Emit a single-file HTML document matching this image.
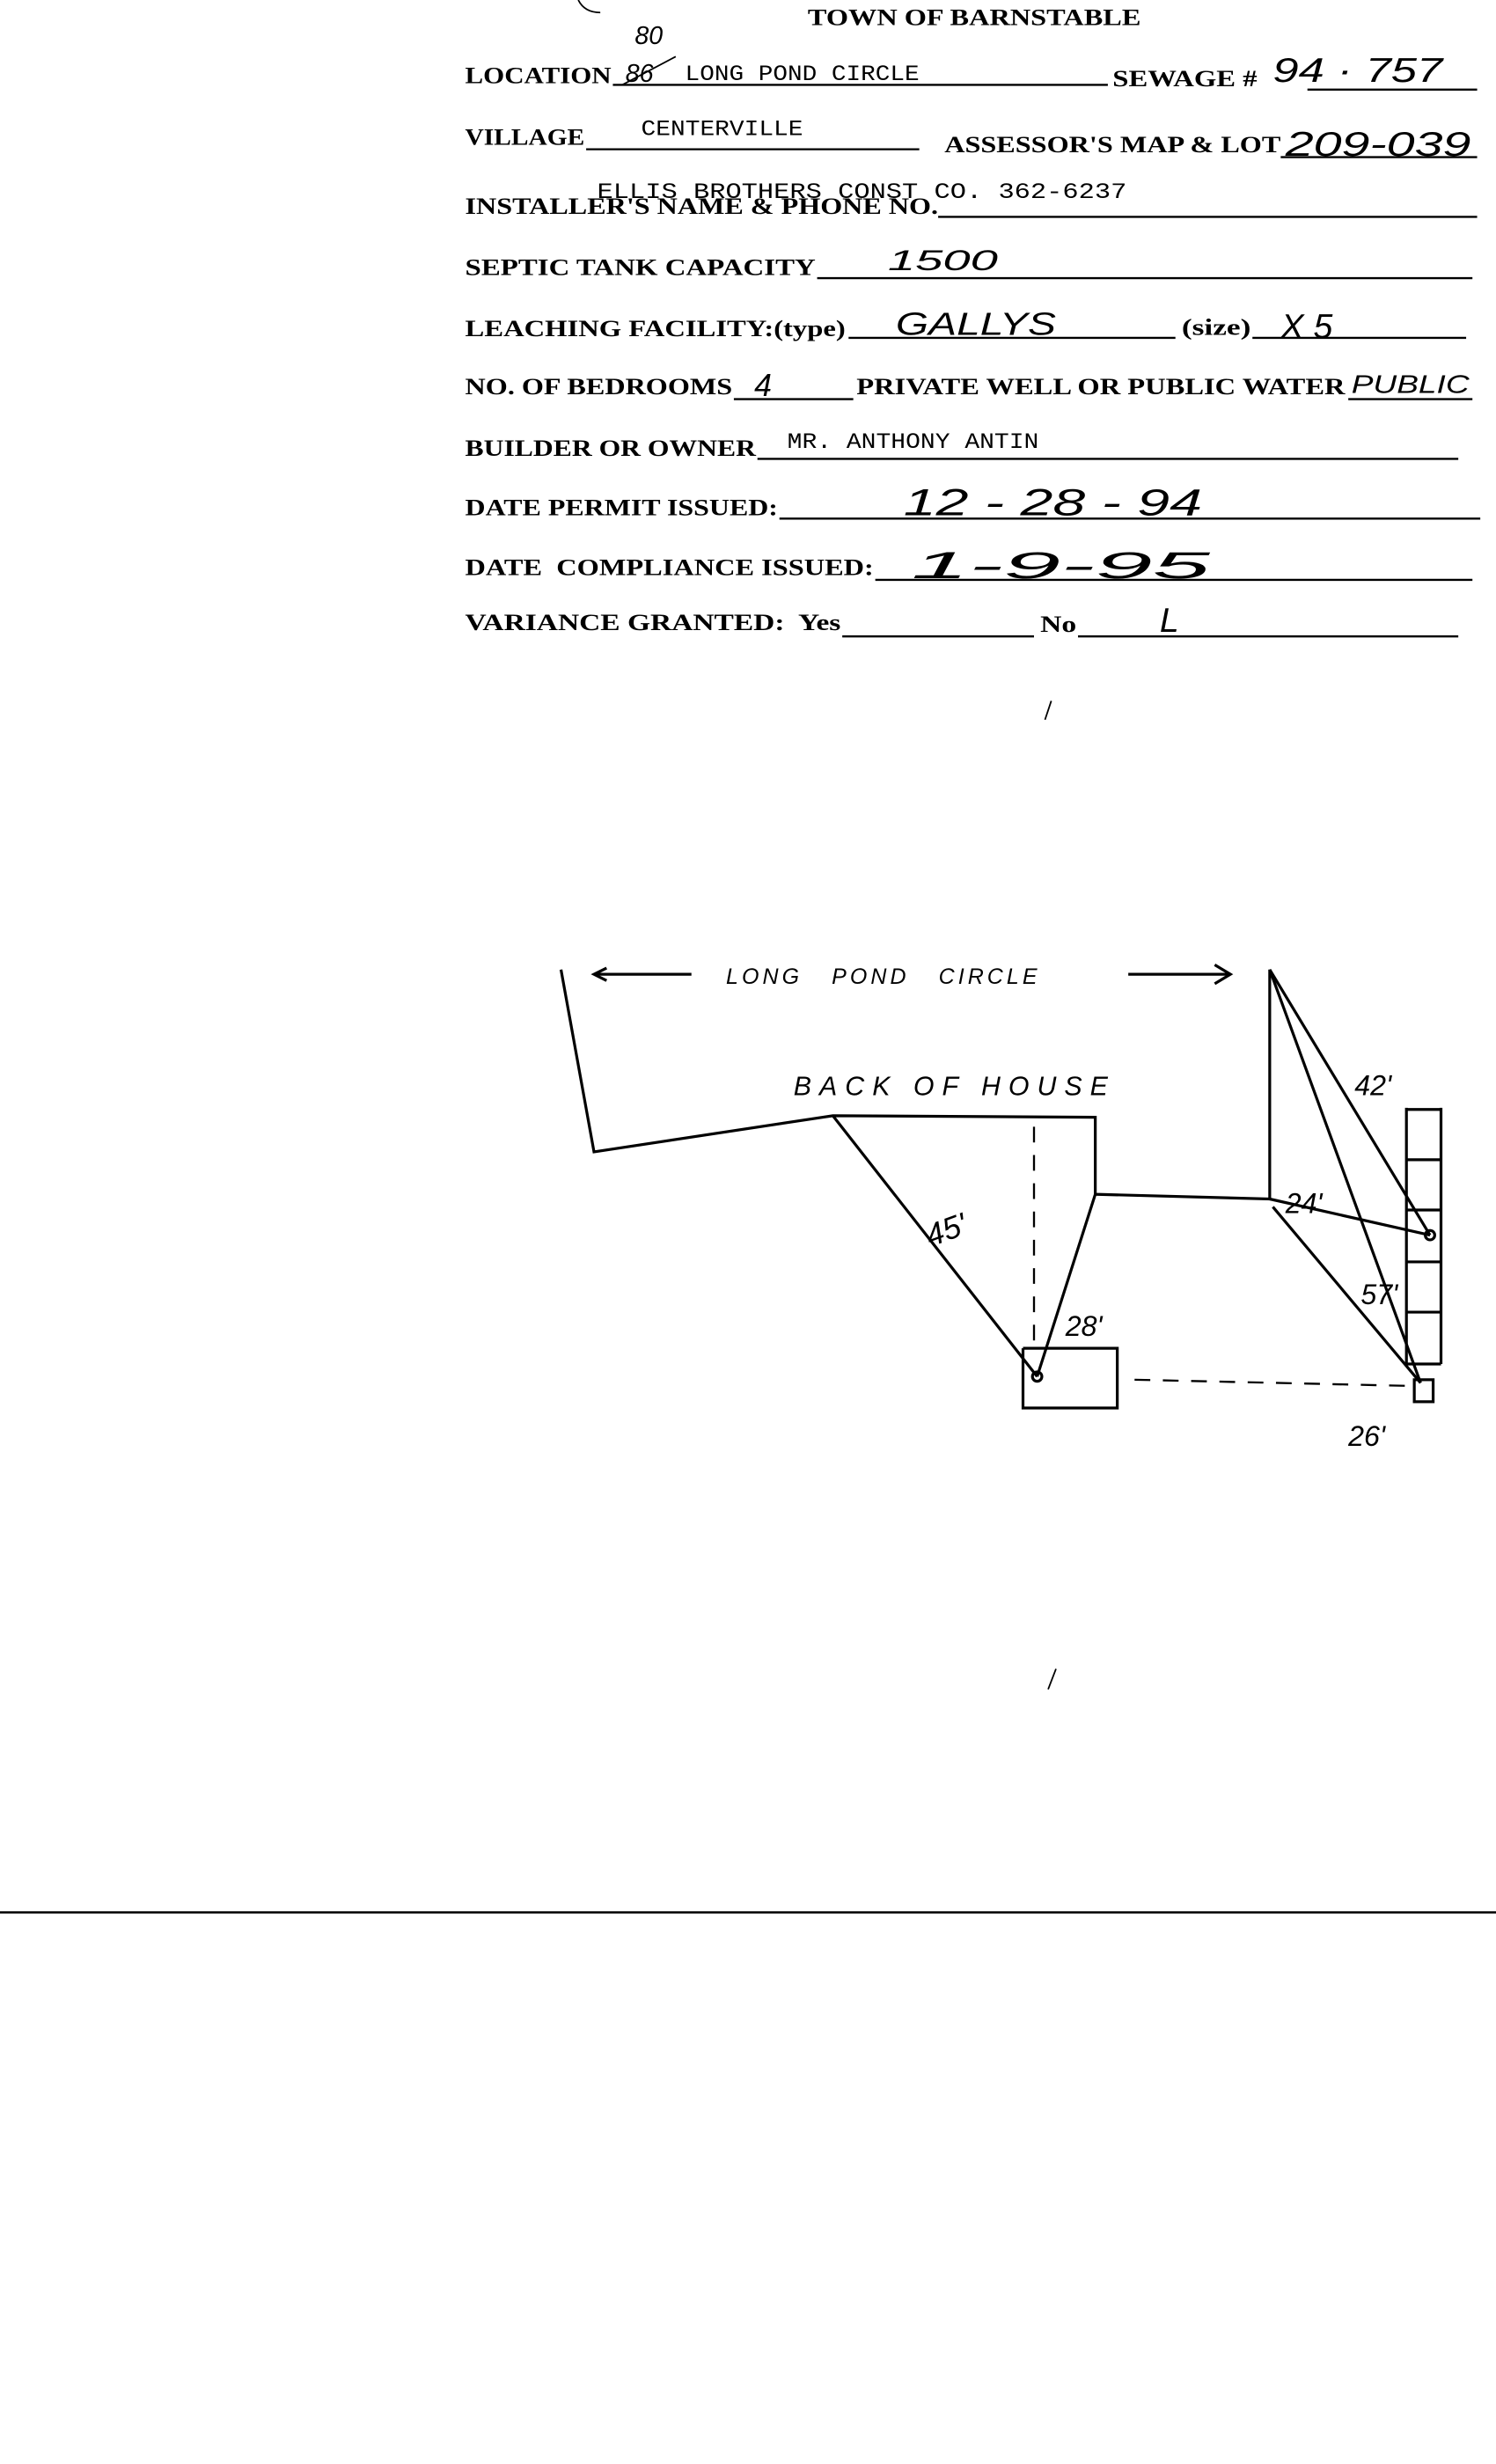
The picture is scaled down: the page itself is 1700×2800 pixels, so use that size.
<!DOCTYPE html>
<html><head><meta charset="utf-8"><style>html,body{margin:0;padding:0;background:#fff}svg{display:block}</style></head>
<body>
<svg width="1700" height="2800" viewBox="0 0 952 1568" xmlns="http://www.w3.org/2000/svg">
<rect width="952" height="1568" fill="#fff"/>
<g font-family="Liberation Serif, serif" font-weight="bold" font-size="15" fill="#000">
<text x="514" y="16" textLength="212" lengthAdjust="spacingAndGlyphs">TOWN OF BARNSTABLE</text>
<text x="296" y="53" textLength="93" lengthAdjust="spacingAndGlyphs">LOCATION</text>
<text x="708" y="55" textLength="92" lengthAdjust="spacingAndGlyphs">SEWAGE #</text>
<text x="296" y="92" textLength="76" lengthAdjust="spacingAndGlyphs">VILLAGE</text>
<text x="601" y="97" textLength="214" lengthAdjust="spacingAndGlyphs">ASSESSOR'S MAP &amp; LOT</text>
<text x="296" y="136" textLength="301" lengthAdjust="spacingAndGlyphs">INSTALLER'S NAME &amp; PHONE NO.</text>
<text x="296" y="175" textLength="223" lengthAdjust="spacingAndGlyphs">SEPTIC TANK CAPACITY</text>
<text x="296" y="214" textLength="242" lengthAdjust="spacingAndGlyphs">LEACHING FACILITY:(type)</text>
<text x="752" y="213" textLength="44" lengthAdjust="spacingAndGlyphs">(size)</text>
<text x="296" y="251" textLength="170" lengthAdjust="spacingAndGlyphs">NO. OF BEDROOMS</text>
<text x="545" y="251" textLength="311" lengthAdjust="spacingAndGlyphs">PRIVATE WELL OR PUBLIC WATER</text>
<text x="296" y="290" textLength="185" lengthAdjust="spacingAndGlyphs">BUILDER OR OWNER</text>
<text x="296" y="328" textLength="199" lengthAdjust="spacingAndGlyphs">DATE PERMIT ISSUED:</text>
<text x="296" y="366" textLength="260" lengthAdjust="spacingAndGlyphs" xml:space="preserve">DATE  COMPLIANCE ISSUED:</text>
<text x="296" y="401" textLength="239" lengthAdjust="spacingAndGlyphs" xml:space="preserve">VARIANCE GRANTED:  Yes</text>
<text x="662" y="402" textLength="23" lengthAdjust="spacingAndGlyphs">No</text>
</g>
<g stroke="#000" stroke-width="1.3">
<line x1="390" y1="54" x2="705" y2="54"/><line x1="832" y1="57" x2="940" y2="57"/>
<line x1="373" y1="95" x2="585" y2="95"/><line x1="815" y1="100" x2="940" y2="100"/>
<line x1="597" y1="138" x2="940" y2="138"/>
<line x1="520" y1="177" x2="937" y2="177"/>
<line x1="540" y1="215" x2="748" y2="215"/><line x1="797" y1="215" x2="933" y2="215"/>
<line x1="467" y1="254" x2="543" y2="254"/><line x1="858" y1="254" x2="937" y2="254"/>
<line x1="482" y1="292" x2="928" y2="292"/>
<line x1="496" y1="330" x2="942" y2="330"/>
<line x1="557" y1="369" x2="937" y2="369"/>
<line x1="536" y1="405" x2="658" y2="405"/><line x1="686" y1="405" x2="928" y2="405"/>
<line x1="0" y1="1217" x2="952" y2="1217" stroke-width="1.5"/>
</g>
<g font-family="Liberation Mono, monospace" font-size="14" fill="#000">
<text x="436" y="51" textLength="149" lengthAdjust="spacingAndGlyphs">LONG POND CIRCLE</text>
<text x="408" y="86" textLength="103" lengthAdjust="spacingAndGlyphs">CENTERVILLE</text>
<text x="380" y="126" textLength="337" lengthAdjust="spacingAndGlyphs">ELLIS BROTHERS CONST CO. 362-6237</text>
<text x="501" y="285" textLength="160" lengthAdjust="spacingAndGlyphs">MR. ANTHONY ANTIN</text>
</g>
<g font-family="Liberation Sans, sans-serif" font-style="italic" fill="#000">
<text x="398" y="52" font-size="16">86</text>
<line x1="396" y1="54" x2="430" y2="36" stroke="#000"/>
<text x="404" y="28" font-size="16">80</text>
<text x="810" y="52" font-size="22" textLength="108" lengthAdjust="spacingAndGlyphs">94 · 757</text>
<text x="818" y="99" font-size="22" textLength="118" lengthAdjust="spacingAndGlyphs">209-039</text>
<text x="565" y="172" font-size="18" textLength="70" lengthAdjust="spacingAndGlyphs">1500</text>
<text x="570" y="213" font-size="20" textLength="102" lengthAdjust="spacingAndGlyphs">GALLYS</text>
<text x="815" y="215" font-size="22">X  5</text>
<text x="480" y="252" font-size="20">4</text>
<text x="860" y="250" font-size="16" textLength="75" lengthAdjust="spacingAndGlyphs">PUBLIC</text>
<text x="575" y="328" font-size="24" textLength="190" lengthAdjust="spacingAndGlyphs">12 - 28 - 94</text>
<text x="580" y="368" font-size="24" textLength="190" lengthAdjust="spacingAndGlyphs">1-9-95</text>
<text x="738" y="402" font-size="22">L</text>
</g>
<path d="M368 0 Q372 8 382 8" stroke="#000" fill="none"/>
<line x1="665" y1="458" x2="669" y2="446" stroke="#000"/>
<line x1="667" y1="1075" x2="672" y2="1062" stroke="#000"/>
<g stroke="#000" stroke-width="1.8" fill="none">
<polyline points="357,617 378,733 530,710 697,711 697,760 808,763 808,617"/>
<line x1="530" y1="710" x2="660" y2="876"/>
<line x1="697" y1="760" x2="660" y2="876"/>
<line x1="658" y1="717" x2="658" y2="860" stroke-dasharray="10,8" stroke-width="1.3"/>
<polyline points="651,858 711,858 711,896 651,896 651,858"/>
<line x1="722" y1="878" x2="900" y2="882" stroke-dasharray="10,8" stroke-width="1.3"/>
<rect x="900" y="878" width="12" height="14"/>
<line x1="895" y1="705" x2="895" y2="868"/><line x1="917" y1="705" x2="917" y2="868"/>
<line x1="895" y1="706" x2="917" y2="706"/><line x1="895" y1="738" x2="917" y2="738"/>
<line x1="895" y1="770" x2="917" y2="770"/><line x1="895" y1="803" x2="917" y2="803"/>
<line x1="895" y1="835" x2="917" y2="835"/><line x1="895" y1="868" x2="917" y2="868"/>
<line x1="808" y1="617" x2="910" y2="786"/>
<line x1="808" y1="617" x2="904" y2="880"/>
<line x1="808" y1="763" x2="910" y2="786"/>
<line x1="810" y1="768" x2="904" y2="880"/>
<circle cx="910" cy="786" r="3"/><circle cx="660" cy="876" r="3"/>
<line x1="378" y1="620" x2="440" y2="620"/><polyline points="386,616 378,620 386,624"/>
<line x1="718" y1="620" x2="783" y2="620"/><polyline points="773,614 783,620 773,626"/>
</g>
<g font-family="Liberation Sans, sans-serif" font-style="italic" fill="#000">
<text x="462" y="626" font-size="14" textLength="198" lengthAdjust="spacing" xml:space="preserve">LONG   POND   CIRCLE</text>
<text x="505" y="697" font-size="17" textLength="200" lengthAdjust="spacing">BACK OF HOUSE</text>
<text x="588" y="790" font-size="20" transform="rotate(-20 600 780)">45'</text>
<text x="678" y="850" font-size="18">28'</text>
<text x="862" y="697" font-size="18">42'</text>
<text x="818" y="772" font-size="18">24'</text>
<text x="866" y="830" font-size="18">57'</text>
<text x="858" y="920" font-size="18">26'</text>
</g>
</svg>
</body></html>
